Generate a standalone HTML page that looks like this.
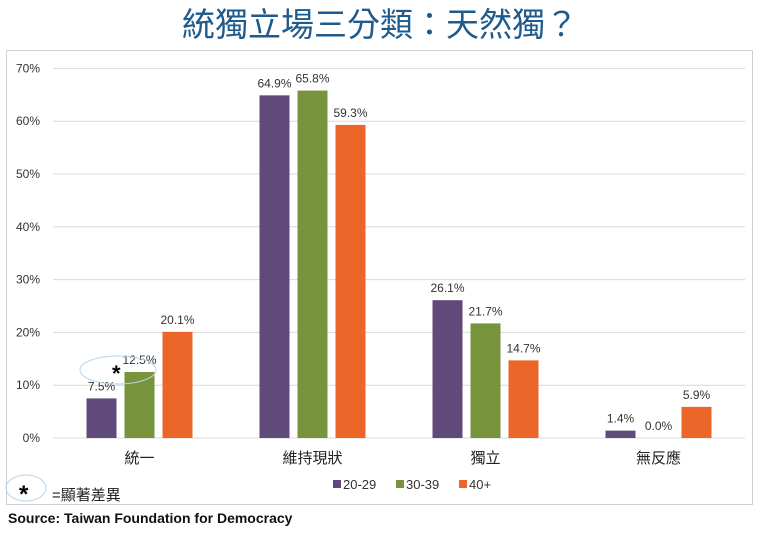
<!DOCTYPE html>
<html><head><meta charset="utf-8"><style>
body{margin:0;background:#fff;width:760px;height:531px;overflow:hidden;font-family:"Liberation Sans","Noto Sans CJK TC",sans-serif}
</style></head><body>
<svg width="760" height="531" font-family="Liberation Sans, Noto Sans CJK TC, sans-serif">
<text x="380" y="36" text-anchor="middle" font-size="33" fill="#1F5A8C">統獨立場三分類：天然獨？</text>
<rect x="6.5" y="50.5" width="746" height="454" fill="none" stroke="#d0d0d0"/>
<g id="grid"></g><g id="bars"></g><g id="labels"></g>
<ellipse cx="118" cy="370" rx="38" ry="14" fill="none" stroke="#b8d4ea"/>
<text x="112" y="381" font-size="22" font-weight="bold">*</text>
<g>
<rect x="333" y="480" width="8" height="8" fill="#604A7B"/><text x="343" y="489" font-size="13" fill="#333">20-29</text>
<rect x="396" y="480" width="8" height="8" fill="#77933C"/><text x="406" y="489" font-size="13" fill="#333">30-39</text>
<rect x="459" y="480" width="8" height="8" fill="#EB6628"/><text x="469" y="489" font-size="13" fill="#333">40+</text>
</g>
<ellipse cx="26" cy="488" rx="20" ry="13" fill="none" stroke="#b8d4ea"/>
<text x="19" y="502" font-size="24" font-weight="bold">*</text>
<text x="52" y="500" font-size="15" fill="#222">=顯著差異</text>
<text x="8" y="523" font-size="14" font-weight="bold" fill="#111">Source: Taiwan Foundation for Democracy</text>
</svg>
<script>
const categories=["統一","維持現狀","獨立","無反應"];
const series=["20-29","30-39","40+"];
const v2029=[7.5,64.9,26.1,1.4];
const v3039=[12.5,65.8,21.7,0.0];
const v40=[20.1,59.3,14.7,5.9];
const ticks=[0,10,20,30,40,50,60,70];
const colors=["#604A7B","#77933C","#EB6628"];
const ns="http://www.w3.org/2000/svg";
const L=53,R=745,Y0=438,PER=52.8;
const y=v=>Y0-v/10*PER;
const gw=(R-L)/categories.length;
const x=(ci,si)=>L+gw*ci+gw/2-53+si*38;
function mk(t,a,p){const e=document.createElementNS(ns,t);for(const k in a)e.setAttribute(k,a[k]);document.getElementById(p).appendChild(e);return e;}
ticks.forEach(t=>{
 const l=mk("line",{x1:L,x2:R,y1:y(t),y2:y(t),stroke:"#d9d9d9"},"grid");
 
 
 const tx=mk("text",{x:40,y:y(t)+4,"text-anchor":"end","font-size":12,fill:"#333"},"grid");
 tx.textContent=t+"%";
 
 
});
const data=[v2029,v3039,v40];
categories.forEach((c,ci)=>{
 data.forEach((arr,si)=>{
  const v=arr[ci];
  const r=mk("rect",{x:x(ci,si),y:y(v),width:30,height:Y0-y(v),fill:colors[si]},"bars");
  
  
  const t=mk("text",{x:x(ci,si)+15,y:y(v)-8,"text-anchor":"middle","font-size":12,fill:"#333"},"labels");
  t.textContent=v.toFixed(1)+"%";
  
  
 });
 const ct=mk("text",{x:L+gw*ci+gw/2,y:463,"text-anchor":"middle","font-size":15,fill:"#222"},"labels");
 ct.textContent=c;
 
 
});
</script>
</body></html>
